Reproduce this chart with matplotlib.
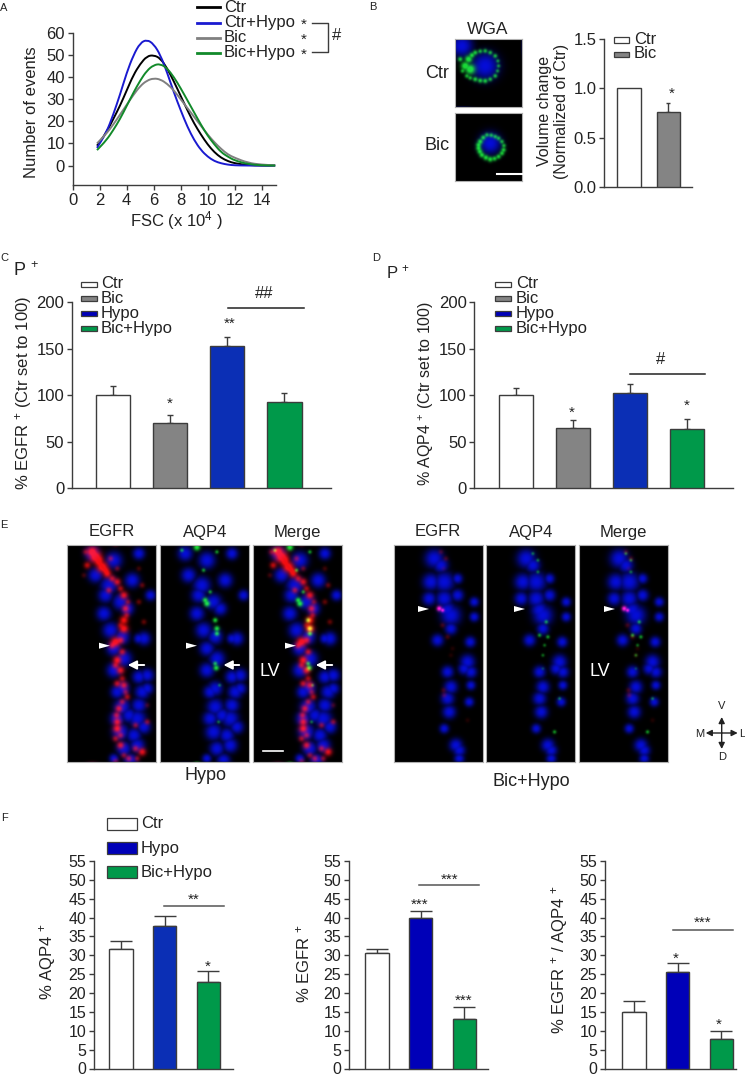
import numpy as np
import matplotlib
matplotlib.use("Agg")
import matplotlib.pyplot as plt
from matplotlib.path import Path
from matplotlib.patches import PathPatch

plt.rcParams["font.family"] = ["Liberation Sans", "DejaVu Sans"]
plt.rcParams["mathtext.fontset"] = "custom"
plt.rcParams["mathtext.rm"] = "Liberation Sans"
plt.rcParams["mathtext.default"] = "regular"

W, H = 745, 1076
DARK = "#3c3c3c"
WHITE, GRAY, BLUE, NAVY, GREEN = "#ffffff", "#848484", "#0b2fb5", "#0000b8", "#00994a"

# panel A, curves
fsc = [1.8, 2.5, 3, 3.5, 4, 4.5, 5, 5.5, 6, 6.5, 7, 7.5, 8, 8.5, 9, 9.5, 10, 10.5, 11, 11.5, 12, 13, 14, 15]
ctr = [9, 15, 21, 27, 34, 41, 46, 49.5, 50, 48.5, 44, 38, 31.5, 25, 19, 14, 9.5, 6, 3.5, 2, 1, 0.2, 0, 0]
ctr_hypo = [8, 15, 23, 32, 42, 50, 55.5, 57, 55, 50, 42, 33, 25, 17.5, 11.5, 7, 4, 2, 1, 0.4, 0.1, 0, 0, 0]
bic = [10, 14.5, 18.5, 23, 27.5, 32, 36, 38.5, 39.5, 39, 37, 34, 30, 26, 22, 18, 14, 10.5, 7.5, 5, 3.5, 1.2, 0.4, 0.1]
bic_hypo = [7, 11.5, 16, 21, 27, 33, 38.5, 43, 45.5, 46, 44, 40, 35, 29.5, 24, 18.5, 13.5, 9.5, 6, 4, 2.3, 0.6, 0.1, 0]

# bar panels: value, top of error bar
b_vals, b_tops = [1.0, 0.76], [1.0, 0.85]
c_vals, c_tops = [100, 70, 153, 92.5], [110, 79, 163, 102]
d_vals, d_tops = [100, 65, 102.5, 64], [108, 73, 112.5, 74]
f1_vals, f1_tops = [31.8, 37.7, 23], [33.7, 40.5, 25.8]
f2_vals, f2_tops = [30.5, 40, 13], [31.8, 41.7, 16.2]
f3_vals, f3_tops = [15, 25.5, 7.8], [17.8, 28, 9.9]

# micrograph content, (x, y, radius) in 1/3 px of a panel
hypo_nuclei = [(75, 25, 22), (140, 45, 25), (215, 25, 18), (85, 90, 22), (125, 120, 26), (195, 105, 22),
               (250, 150, 16), (115, 150, 22), (160, 170, 24), (110, 205, 22), (180, 190, 20), (130, 255, 24),
               (165, 275, 22), (230, 280, 20), (140, 310, 22), (170, 340, 24), (215, 280, 15), (140, 375, 22),
               (215, 395, 20), (240, 390, 20), (165, 430, 22), (150, 440, 20), (225, 440, 22), (215, 480, 22),
               (165, 485, 25), (240, 430, 18), (150, 520, 22), (185, 510, 22), (210, 520, 26), (160, 560, 25),
               (200, 570, 22), (230, 545, 20), (170, 610, 22), (210, 600, 22), (140, 640, 14), (190, 645, 20)]
hypo_red = [(75, 20, 14), (85, 35, 16), (105, 65, 14), (120, 85, 10), (60, 60, 7), (150, 110, 8), (170, 150, 9),
            (175, 190, 8), (170, 225, 10), (170, 250, 11), (160, 285, 8), (145, 290, 12), (150, 345, 10),
            (160, 375, 9), (170, 420, 8), (155, 490, 8), (150, 530, 9), (150, 550, 10), (160, 600, 8),
            (225, 620, 9), (205, 610, 6), (185, 640, 6), (225, 120, 4), (215, 170, 4), (230, 230, 4),
            (100, 40, 6), (125, 135, 6), (205, 540, 5), (180, 455, 6), (145, 650, 6), (240, 530, 5),
            (95, 50, 12), (115, 75, 10), (135, 100, 7), (160, 130, 6), (182, 170, 5), (178, 210, 6), (160, 240, 6),
            (135, 300, 8), (165, 320, 7), (145, 360, 7), (165, 400, 6), (150, 415, 7), (175, 440, 5), (165, 470, 6),
            (148, 510, 7), (160, 570, 6), (145, 580, 6), (170, 630, 5), (210, 640, 5), (55, 20, 5), (50, 90, 3),
            (215, 70, 3), (240, 480, 3), (130, 40, 5), (150, 70, 4)]
hypo_green = [(110, 6, 9), (65, 15, 4), (170, 20, 4), (130, 75, 4), (135, 165, 7), (140, 175, 8), (150, 140, 4),
              (165, 225, 6), (170, 250, 7), (170, 265, 6), (165, 355, 5), (168, 368, 7), (178, 420, 3), (175, 530, 3)]
bic_nuclei = [(120, 40, 28), (140, 60, 22), (110, 110, 25), (150, 110, 30), (190, 100, 15), (105, 160, 20),
              (150, 160, 25), (190, 150, 18), (160, 195, 25), (170, 210, 30), (240, 170, 14), (240, 215, 14),
              (170, 250, 18), (130, 285, 18), (228, 290, 16), (220, 350, 22), (230, 380, 18), (210, 370, 18),
              (160, 380, 18), (170, 425, 20), (160, 460, 20), (230, 420, 14), (165, 500, 20), (225, 470, 14),
              (150, 550, 14), (185, 600, 20), (195, 615, 18), (195, 640, 15)]
bic_red = [(140, 20, 3), (155, 40, 3), (148, 70, 2), (145, 240, 3), (160, 275, 3), (175, 310, 2), (170, 330, 2),
           (148, 435, 3), (150, 450, 3), (220, 525, 2)]
bic_green = [(140, 25, 3), (155, 45, 3), (155, 80, 3), (180, 230, 4), (160, 270, 4), (185, 275, 4), (175, 300, 3),
             (170, 330, 3), (170, 370, 2), (220, 460, 3), (205, 560, 4)]
bic_pink = [(135, 190, 7), (145, 195, 5)]
wga_ctr_nuclei = [(90, 80, 40), (20, 20, 32)]
wga_ctr_green = [(30, 80, 12), (45, 90, 14), (40, 60, 10), (50, 48, 7), (60, 40, 6), (75, 36, 5), (90, 35, 5),
                 (105, 40, 5), (120, 50, 5), (128, 65, 4), (130, 80, 4), (127, 95, 4), (120, 110, 5), (105, 120, 5),
                 (90, 125, 6), (75, 124, 6), (60, 120, 6), (45, 116, 5), (35, 110, 5), (15, 60, 6), (22, 95, 5)]
wga_bic_nuclei = [(105, 90, 32)]
wga_bic_green = [(75, 85, 7), (70, 95, 7), (70, 105, 7), (74, 115, 7), (80, 125, 7), (92, 133, 7), (105, 138, 7),
                 (118, 136, 6), (130, 130, 6), (140, 120, 6), (145, 110, 6), (146, 97, 5), (140, 85, 5), (130, 75, 5),
                 (120, 70, 5), (108, 66, 5), (95, 65, 5), (84, 73, 6)]


def px_axes(fig, left, top, right, bottom):
    return fig.add_axes([left / W, 1 - bottom / H, (right - left) / W, (bottom - top) / H])


def clean(ax):
    for s in ("top", "right"):
        ax.spines[s].set_visible(False)
    for s in ("left", "bottom"):
        ax.spines[s].set_color(DARK)
        ax.spines[s].set_linewidth(1.0)
    ax.tick_params(length=3.5, width=1.0, color=DARK, labelsize=12, pad=2, labelcolor="#222222")


def bars(ax, vals, tops, colors, width=0.6, cap=2.5):
    xs = np.arange(len(vals))
    ax.bar(xs, vals, width=width, color=colors, edgecolor=DARK, linewidth=1.0, zorder=3)
    for x, v, top in zip(xs, vals, tops):
        if top > v:
            ax.errorbar(x, v, yerr=[[0], [top - v]], color=DARK, capsize=cap, elinewidth=1.0, capthick=1.0, zorder=2)
    ax.set_xticks([])


def smooth_line(ax, xs, ys, color):
    # quadratic segments between the read points, so the curve has no corners
    pts = np.column_stack([xs, ys])
    mids = (pts[:-1] + pts[1:]) / 2
    verts = [pts[0], mids[0]]
    codes = [Path.MOVETO, Path.LINETO]
    for p, m in zip(pts[1:-1], mids[1:]):
        verts += [p, m]
        codes += [Path.CURVE3, Path.CURVE3]
    verts.append(pts[-1])
    codes.append(Path.LINETO)
    ax.add_patch(PathPatch(Path(verts, codes), fill=False, edgecolor=color, lw=1.4, clip_on=False))


def soften(layer, passes):
    # repeated neighbour average, a cheap blur
    for _ in range(passes):
        layer = (layer + np.roll(layer, 1, 0) + np.roll(layer, -1, 0) + np.roll(layer, 1, 1) + np.roll(layer, -1, 1)) / 5
    return layer


def micro(fig, box, nuclei, red=(), green=(), pink=()):
    ax = px_axes(fig, *box)
    w, h = box[2] - box[0], box[3] - box[1]
    yy, xx = np.mgrid[0:h * 2, 0:w * 2] / 2 * 3  # grid in 1/3 px
    img = np.zeros((h * 2, w * 2, 3))

    def add(blobs, rgb, power, passes, gain):
        layer = np.zeros(xx.shape)
        for x, y, r in blobs:
            layer = np.maximum(layer, np.exp(-(((xx - x) ** 2 + (yy - y) ** 2) / r ** 2) ** power))
        layer = np.clip(soften(layer, passes) * gain, 0, 1)
        img[..., 2] *= 1 - 0.75 * layer  # colour sits over the blue
        for i in range(3):
            img[..., i] += layer * rgb[i]

    add(nuclei, (0.02, 0.05, 0.85), 1.2, 6, 1.0)
    add(red, (0.95, 0.05, 0.05), 0.9, 25, 1.5)
    add(green, (0.1, 0.85, 0.2), 1.0, 8, 1.3)
    add(pink, (1.0, 0.1, 0.8), 1.0, 4, 1.2)
    ax.imshow(np.clip(img, 0, 1), aspect="auto", interpolation="bilinear")
    ax.set_xticks([])
    ax.set_yticks([])
    for s in ax.spines.values():
        s.set_color("#b0b0b0")
        s.set_linewidth(0.8)


fig = plt.figure(figsize=(W / 100, H / 100), dpi=100)

# A
ax = px_axes(fig, 72.7, 33, 276, 185)
clean(ax)
for y_s, col in zip([ctr, ctr_hypo, bic, bic_hypo], ["black", "#1a1ad0", "#808080", "#128a2a"]):
    smooth_line(ax, fsc, y_s, col)
ax.set_xlim(0, 15.06)
ax.set_ylim(-8.8, 60)
ax.set_xticks(range(0, 15, 2))
ax.set_yticks(range(0, 61, 10))

# B bars
ax = px_axes(fig, 604, 39, 691.7, 187)
clean(ax)
bars(ax, b_vals, b_tops, [WHITE, GRAY], cap=1.5)
ax.set_xlim(-0.645, 1.6)
ax.set_ylim(0, 1.5)
ax.set_yticks([0, 0.5, 1.0, 1.5])
ax.set_yticklabels(["0.0", "0.5", "1.0", "1.5"])

# C
ax = px_axes(fig, 72, 302.3, 330.7, 488)
clean(ax)
bars(ax, c_vals, c_tops, [WHITE, GRAY, BLUE, GREEN])
ax.plot([2.02, 3.34], [193.5, 193.5], color="#222222", lw=1.1, clip_on=False)
ax.set_xlim(-0.72, 3.81)
ax.set_ylim(0, 200)
ax.set_yticks([0, 50, 100, 150, 200])

# D
ax = px_axes(fig, 474.3, 302.3, 733, 488)
clean(ax)
bars(ax, d_vals, d_tops, [WHITE, GRAY, BLUE, GREEN])
ax.plot([2.0, 3.32], [123, 123], color="#222222", lw=1.1, clip_on=False)
ax.set_xlim(-0.73, 3.81)
ax.set_ylim(0, 200)
ax.set_yticks([0, 50, 100, 150, 200])

# F
f_boxes = [(93.8, 233, 121), (349, 488, 377), (604.8, 735.7, 634)]
f_data = [(f1_vals, f1_tops, BLUE, (164, 224), 43.2),
          (f2_vals, f2_tops, NAVY, (419, 478.6), 48.6),
          (f3_vals, f3_tops, NAVY, (673, 733), 36.8)]
for (left, right, c0), (vals, tops, col, line, ly) in zip(f_boxes, f_data):
    ax = px_axes(fig, left, 861, right, 1068.5)
    clean(ax)
    ax.tick_params(labelsize=11.5)
    bars(ax, vals, tops, [WHITE, col, GREEN], width=0.54, cap=8)
    ax.plot([(line[0] - c0) / 43.7, (line[1] - c0) / 43.7], [ly, ly], color="#555555", lw=1.1, clip_on=False)
    ax.set_xlim((left - c0) / 43.7, (right - c0) / 43.7)
    ax.set_ylim(0, 55)
    ax.set_yticks(range(0, 56, 5))

# micrographs
micro(fig, (455, 39, 522, 107), wga_ctr_nuclei, green=wga_ctr_green)
micro(fig, (455, 113, 522, 181), wga_bic_nuclei, green=wga_bic_green)
for left, kw in zip([67, 160, 253], [dict(red=hypo_red), dict(green=hypo_green), dict(red=hypo_red, green=hypo_green)]):
    micro(fig, (left, 545, left + 89, 762), hypo_nuclei, **kw)
for left, kw in zip([394, 486, 579], [dict(red=bic_red, pink=bic_pink), dict(green=bic_green),
                                      dict(red=bic_red, green=bic_green, pink=bic_pink)]):
    micro(fig, (left, 545, left + 89, 762), bic_nuclei, **kw)

# overlay in pixel coordinates for labels and annotations
ov = fig.add_axes([0, 0, 1, 1], zorder=10)
ov.set_xlim(0, W)
ov.set_ylim(H, 0)
ov.axis("off")


def t(x, y, s, size=12, ha="center", va="center", rot=0, color="#222222"):
    ov.text(x, y, s, fontsize=size, ha=ha, va=va, rotation=rot, color=color)


def key(x0, x1, y, h, color):
    ov.add_patch(plt.Rectangle((x0, y - h / 2), x1 - x0, h, facecolor=color, edgecolor=DARK, lw=0.9))


def star(x, y, s="*"):
    t(x, y + 2, s, size=11)


for x, y, s in [(4, 8, "A"), (373, 7, "B"), (4, 258, "C"), (376, 258, "D"), (4, 525, "E"), (4, 818, "F")]:
    t(x, y, s, size=8)

# A annotations
for y, col, name in zip([7, 22.7, 38, 53], ["black", "#1a1ad0", "#808080", "#128a2a"], ["Ctr", "Ctr+Hypo", "Bic", "Bic+Hypo"]):
    ov.plot([197, 220], [y, y], color=col, lw=2)
    t(224, y, name, ha="left")
for y in [22.7, 38, 53]:
    star(304, y)
ov.plot([312, 328, 328, 312], [23, 23, 52, 52], color=DARK, lw=1)
t(337, 35, "#")
t(32, 112, "Number of events", rot=90)
t(177, 221, "FSC (x 10$^{4}$ )")

# B annotations
t(488, 29, "WGA", size=12.5)
t(437, 73, "Ctr", size=13)
t(437, 146, "Bic", size=13)
t(553, 111, "Volume change\n(Normalized of Ctr)", size=11.5, rot=90)
key(614, 629, 40, 5.5, WHITE)
key(614, 629, 54.5, 5.5, GRAY)
t(634, 39, "Ctr", ha="left")
t(634, 54, "Bic", ha="left")
star(672, 92)
ov.plot([497, 521.7], [174, 174], color="white", lw=1.5)

# C, D annotations
legend_names = ["Ctr", "Bic", "Hypo", "Bic+Hypo"]
legend_cols = [WHITE, GRAY, NAVY, GREEN]
legend_y = [284, 298.7, 313.3, 328]
for x0, x1, xt in [(81, 96.7, 101), (495, 511, 516)]:
    for y, name, col in zip(legend_y, legend_names, legend_cols):
        key(x0, x1, y, 5, col)
        t(xt, y, name, ha="left")
t(13, 271, "P $^{+}$", ha="left", size=13)
t(386, 272, "P $^{+}$", ha="left", size=12)
t(24, 393, "% EGFR $^{+}$ (Ctr set to 100)", rot=90)
t(426, 393, "% AQP4 $^{+}$ (Ctr set to 100)", size=11.5, rot=90)
t(264, 294, "##")
t(660.7, 359, "#")
star(170, 402)
star(230, 322, "**")
star(572, 411)
star(686.7, 404)

# E annotations
for x, s in [(112, "EGFR"), (205, "AQP4"), (297, "Merge"), (438, "EGFR"), (531, "AQP4"), (623, "Merge")]:
    t(x, 532, s)
t(205, 776, "Hypo", size=13)
t(531, 781, "Bic+Hypo", size=13)
t(270, 672, "LV", size=13, color="white")
t(600, 672, "LV", size=13, color="white")
ov.plot([263, 283], [751, 751], color="white", lw=1.2)
for x0, y in [(99, 645.7), (186, 645.7), (285, 645.7), (418, 609), (514, 609), (604, 609)]:
    ov.fill([x0, x0 + 11, x0], [y - 3, y, y + 3], color="white", lw=0)
for tip, tail in [(125, 147), (220.7, 242), (313, 335)]:
    ov.annotate("", xy=(tip, 665), xytext=(tail, 665),
                arrowprops=dict(arrowstyle="-|>", color="white", lw=1.4, mutation_scale=13))

# compass
cx, cy = 721.7, 733
for dx, dy in [(16, 0), (-16, 0), (0, 16), (0, -16)]:
    ov.annotate("", xy=(cx + dx, cy + dy), xytext=(cx, cy),
                arrowprops=dict(arrowstyle="-|>", color="#222222", lw=1, mutation_scale=9, shrinkA=0, shrinkB=0))
for x, y, s in [(721.7, 706, "V"), (721.7, 757, "D"), (700, 734, "M"), (742, 734, "L")]:
    t(x, y, s, size=8)

# F annotations
for y, name, col in zip([824, 848, 872], ["Ctr", "Hypo", "Bic+Hypo"], [WHITE, NAVY, GREEN]):
    key(107, 136.7, y, 12, col)
    t(141, y, name, ha="left")
t(47, 962, "% AQP4 $^{+}$", rot=90)
t(303, 964, "% EGFR $^{+}$", rot=90)
t(560, 960, "% EGFR $^{+}$ / AQP4 $^{+}$", rot=90)
for x, y, s in [(208, 965, "*"), (194, 898, "**"), (419.5, 903, "***"), (464, 999, "***"), (450, 878, "***"),
                (676, 957, "*"), (718.5, 1023, "*"), (703, 921, "***")]:
    star(x, y, s)

fig.savefig("out.png", dpi=100)
